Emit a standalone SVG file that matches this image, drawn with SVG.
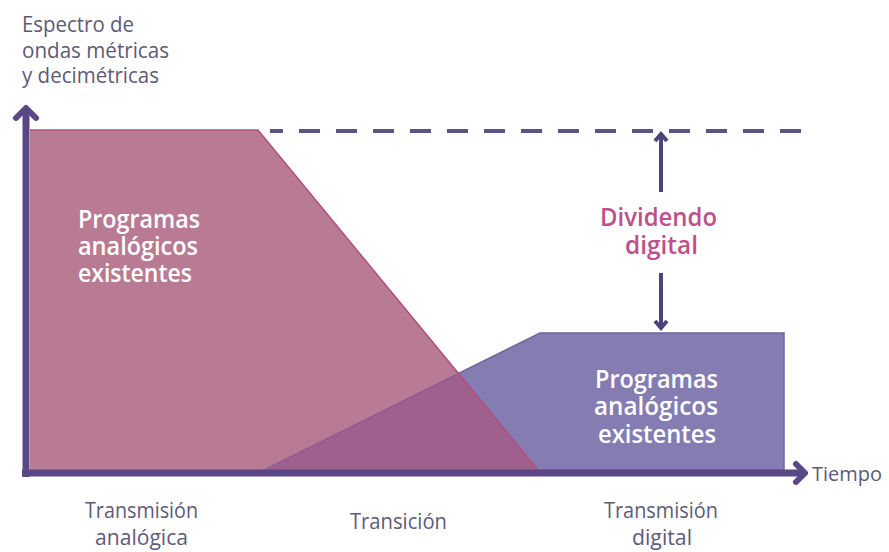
<svg xmlns="http://www.w3.org/2000/svg" width="889" height="552" viewBox="0 0 889 552">
<style>
text{font-family:"Open Sans","Liberation Sans",sans-serif}
.w{fill:#ffffff;font-size:26px;font-weight:600}
.lab{fill:#5e5a78;font-size:22px;font-weight:500}
.div{fill:#c0508a;font-size:26px;font-weight:600}
.ax{stroke:#5a4886;stroke-width:7;fill:none}
.head{stroke:#5a4886;stroke-width:6;fill:none;stroke-linecap:round;stroke-linejoin:round}
.arr{stroke:#4c4577;stroke-width:4;fill:none}
</style>
<rect width="889" height="552" fill="#ffffff"/>
<g id="blue-area">
<polygon points="264,470 540,333 784,333 784,470" fill="#857cb1" stroke="#6f65a2" stroke-width="1.5"/>
</g>
<g id="pink-area">
<polygon points="30,130 258,130 538,470 30,470" fill="#b87b93"/>
<polygon points="264,470 459,373 538,470" fill="#a0608d"/>
<polyline points="30,130 258,130 538,470" fill="none" stroke="#b0507f" stroke-width="1.5"/>
<line x1="264" y1="470" x2="459" y2="373" stroke="#8a5a96" stroke-width="1.2"/>
</g>
<g id="connectors">
<line class="ax" x1="26" y1="108" x2="26" y2="477"/>
<polyline class="head" points="16,118 26,108 36,118"/>
<line class="ax" x1="22" y1="473" x2="803" y2="473"/>
<polyline class="head" points="796,464 805,473 796,482"/>
<line x1="270" y1="131" x2="812" y2="131" stroke="#5a5587" stroke-width="4" stroke-dasharray="21,16" stroke-dashoffset="8"/>
<line class="arr" x1="661" y1="134" x2="661" y2="192"/>
<polyline class="arr" points="655,141 661,134 667,141"/>
<line class="arr" x1="661" y1="273" x2="661" y2="328"/>
<polyline class="arr" points="655,321 661,328 667,321"/>
</g>
<g id="y-label">
<text class="lab" x="22" y="32" textLength="112" lengthAdjust="spacingAndGlyphs">Espectro de</text>
<text class="lab" x="22" y="58" textLength="147" lengthAdjust="spacingAndGlyphs">ondas métricas</text>
<text class="lab" x="22" y="83" textLength="137" lengthAdjust="spacingAndGlyphs">y decimétricas</text>
</g>
<g id="analog-programs">
<text class="w" x="78" y="228" textLength="122" lengthAdjust="spacingAndGlyphs">Programas</text>
<text class="w" x="78" y="255" textLength="120" lengthAdjust="spacingAndGlyphs">analógicos</text>
<text class="w" x="78" y="282" textLength="114" lengthAdjust="spacingAndGlyphs">existentes</text>
</g>
<g id="digital-programs">
<text class="w" x="595" y="388" textLength="123" lengthAdjust="spacingAndGlyphs">Programas</text>
<text class="w" x="594" y="415" textLength="124" lengthAdjust="spacingAndGlyphs">analógicos</text>
<text class="w" x="598" y="443" textLength="118" lengthAdjust="spacingAndGlyphs">existentes</text>
</g>
<g id="dividend">
<text class="div" x="600" y="226" textLength="117" lengthAdjust="spacingAndGlyphs">Dividendo</text>
<text class="div" x="625" y="254" textLength="73" lengthAdjust="spacingAndGlyphs">digital</text>
</g>
<g id="x-labels">
<text class="lab" x="85" y="518" textLength="113" lengthAdjust="spacingAndGlyphs">Transmisión</text>
<text class="lab" x="95" y="545" textLength="93" lengthAdjust="spacingAndGlyphs">analógica</text>
<text class="lab" x="350" y="529" textLength="97" lengthAdjust="spacingAndGlyphs">Transición</text>
<text class="lab" x="604" y="518" textLength="114" lengthAdjust="spacingAndGlyphs">Transmisión</text>
<text class="lab" x="632" y="545" textLength="60" lengthAdjust="spacingAndGlyphs">digital</text>
<text class="lab" x="812" y="481" style="font-size:20px" textLength="70" lengthAdjust="spacingAndGlyphs">Tiempo</text>
</g>
</svg>
